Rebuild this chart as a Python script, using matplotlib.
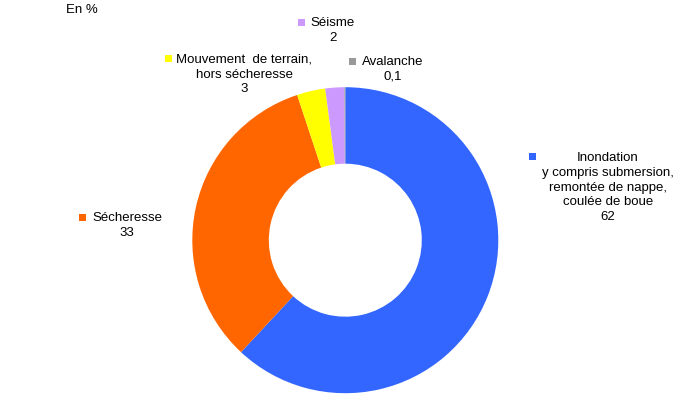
import matplotlib.pyplot as plt
from matplotlib.patches import Rectangle

plt.rcParams['font.family'] = ['Liberation Sans', 'DejaVu Sans']

# données (en %)
categories = ["Inondation\ny compris submersion,\nremontée de nappe,\ncoulée de boue",
              "Sécheresse",
              "Mouvement  de terrain,\nhors sécheresse",
              "Séisme",
              "Avalanche"]
values = [62, 33, 3, 2, 0.1]
value_labels = ["62", "33", "3", "2", "0,1"]
colors = ["#3366FF", "#FF6600", "#FFFF00", "#CC99FF", "#999999"]

W, H = 679, 399
fig = plt.figure(figsize=(W / 100, H / 100), dpi=100)

# donut: centre (345, 240) px, rayon 153 px
cx, cy, r = 345.3, 240.2, 153
ax = fig.add_axes([(cx - r) / W, (H - cy - r) / H, 2 * r / W, 2 * r / H])
ax.pie(values, colors=colors, startangle=90, counterclock=False,
       radius=1, wedgeprops=dict(width=0.5, linewidth=0))
ax.set_xlim(-1, 1)
ax.set_ylim(-1, 1)
ax.set_aspect('equal')
ax.axis('off')


def fx(x):
    return x / W


def fy(y):
    return 1 - y / H


fig.text(fx(66), fy(10), "En %", fontsize=9.5, va='center', ha='left')

# positions des étiquettes (px): centre du texte, coin du marqueur
label_pos = [(608, 187.5, 529, 153),
             (127, 225.5, 79, 214),
             (244, 74.5, 165, 55),
             (333, 30.5, 298, 19),
             (393, 69.5, 349, 58)]

for cat, lab, col, (tx, ty, mx, my) in zip(categories, value_labels, colors, label_pos):
    fig.text(fx(tx), fy(ty), cat + "\n" + lab, fontsize=9.5, ha='center',
             va='center', multialignment='center', linespacing=1.32)
    fig.add_artist(Rectangle((fx(mx), fy(my + 7)), 7 / W, 7 / H,
                             transform=fig.transFigure, color=col, lw=0))

fig.savefig("out.png", dpi=100)
